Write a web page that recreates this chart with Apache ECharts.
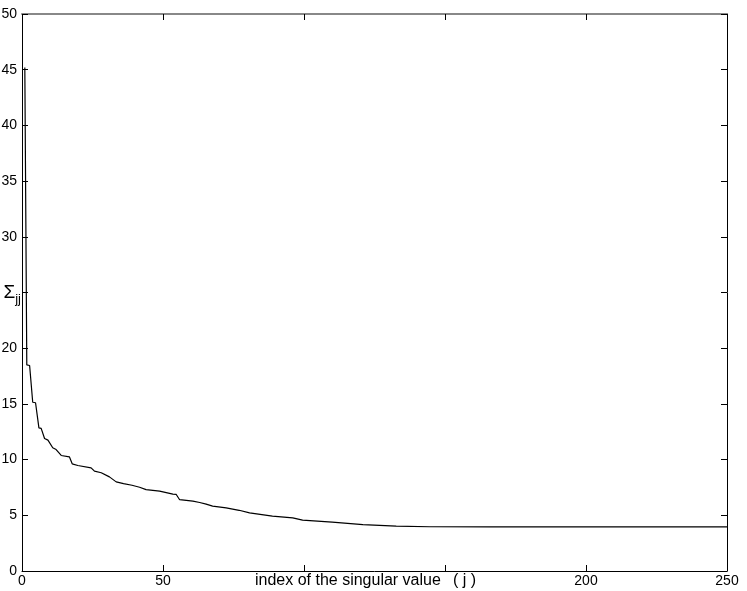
<!DOCTYPE html>
<html>
<head>
<meta charset="utf-8">
<script src="https://cdn.jsdelivr.net/npm/echarts@6/dist/echarts.min.js"></script>
<style>
html,body{margin:0;padding:0;background:#fff;}
#chart{width:747px;height:591px;}
</style>
</head>
<body>
<div id="chart"></div>
<script>
// index of the singular value (j)
var jIndex = [1, 1.7, 2.7, 3.8, 4.8, 6.0, 6.8, 8, 9.2, 10.9, 12.1, 13.9, 16.8, 17.8, 19.8, 24.5, 25.7, 28.1, 31, 33.4, 36, 39, 41.7, 44, 48.8, 53.5, 54.7, 55.9, 60.6, 63, 65.3, 67.6, 72.4, 77, 80.7, 88.8, 96, 99.5, 110, 120.9, 132.7, 144.5, 165.8, 250];
// singular values Sigma_jj
var sigmaValues = [45.2, 18.5, 18.45, 15.15, 15.1, 12.85, 12.8, 11.9, 11.75, 11.06, 10.9, 10.37, 10.25, 9.62, 9.47, 9.26, 8.96, 8.82, 8.45, 8.0, 7.85, 7.7, 7.52, 7.3, 7.17, 6.9, 6.87, 6.4, 6.27, 6.15, 6.0, 5.82, 5.67, 5.45, 5.22, 4.92, 4.77, 4.56, 4.38, 4.17, 4.02, 3.97, 3.96, 3.96];
var xTickLabels = [0, 50, 100, 150, 200, 250];
var xHiddenLabels = [100, 150];
var yTickLabels = [0, 5, 10, 15, 20, 25, 30, 35, 40, 45, 50];
var yHiddenLabel = 25;
var xName = 'index of the singular value \u2009 ( j )';

var seriesData = jIndex.map(function (j, i) { return [j, sigmaValues[i]]; });

var font = 'Liberation Sans, Arial, Helvetica, sans-serif';
var chart = echarts.init(document.getElementById('chart'), null, {renderer: 'canvas'});
chart.setOption({
  animation: false,
  backgroundColor: '#fff',
  grid: {left: 22, right: 20, top: 14, bottom: 20, containLabel: false, outerBoundsMode: 'none'},
  xAxis: [{
    type: 'value', position: 'bottom',
    min: xTickLabels[0], max: xTickLabels[xTickLabels.length - 1], interval: 50,
    name: xName, nameLocation: 'middle', nameGap: 2, nameMoveOverlap: false,
    nameTextStyle: {color: '#000', fontSize: 16, fontFamily: font, padding: [0, 18, 0, 0]},
    axisLine: {show: true, onZero: false, lineStyle: {color: '#000', width: 1}},
    axisTick: {show: true, inside: true, length: 6, lineStyle: {color: '#000'}},
    axisLabel: {color: '#000', fontSize: 14, fontFamily: font, margin: 3,
      showMinLabel: true, showMaxLabel: true,
      formatter: function (v) { return xHiddenLabels.indexOf(v) >= 0 ? '' : String(v); }},
    splitLine: {show: false}
  }, {
    type: 'value', position: 'top',
    min: xTickLabels[0], max: xTickLabels[xTickLabels.length - 1], interval: 50,
    axisLine: {show: true, onZero: false, lineStyle: {color: '#888', width: 2}},
    axisTick: {show: true, inside: true, length: 6, lineStyle: {color: '#000'}},
    axisLabel: {show: false},
    splitLine: {show: false}
  }],
  yAxis: [{
    type: 'value', position: 'left',
    min: yTickLabels[0], max: yTickLabels[yTickLabels.length - 1], interval: 5,
    name: '{s|Σ}{j|jj}', nameLocation: 'middle', nameRotate: 0, nameGap: 1, nameMoveOverlap: false,
    nameTextStyle: {
      color: '#000', fontFamily: font,
      rich: {
        s: {fontSize: 19, fontFamily: font, color: '#000'},
        j: {fontSize: 13, fontFamily: font, color: '#000', padding: [14, 0, 0, 0]}
      }
    },
    axisLine: {show: true, onZero: false, lineStyle: {color: '#000', width: 1}},
    axisTick: {show: true, inside: true, length: 6, lineStyle: {color: '#000'}},
    axisLabel: {color: '#000', fontSize: 14, fontFamily: font, margin: 5,
      formatter: function (v) { return v === yHiddenLabel ? '' : String(v); }},
    splitLine: {show: false}
  }, {
    type: 'value', position: 'right',
    min: yTickLabels[0], max: yTickLabels[yTickLabels.length - 1], interval: 5,
    axisLine: {show: true, onZero: false, lineStyle: {color: '#000', width: 1}},
    axisTick: {show: true, inside: true, length: 6, lineStyle: {color: '#000'}},
    axisLabel: {show: false},
    splitLine: {show: false}
  }],
  series: [{
    type: 'line',
    data: seriesData,
    showSymbol: false,
    symbol: 'none',
    lineStyle: {color: '#000', width: 1.2},
    xAxisIndex: 0, yAxisIndex: 0
  }]
});
</script>
</body>
</html>
